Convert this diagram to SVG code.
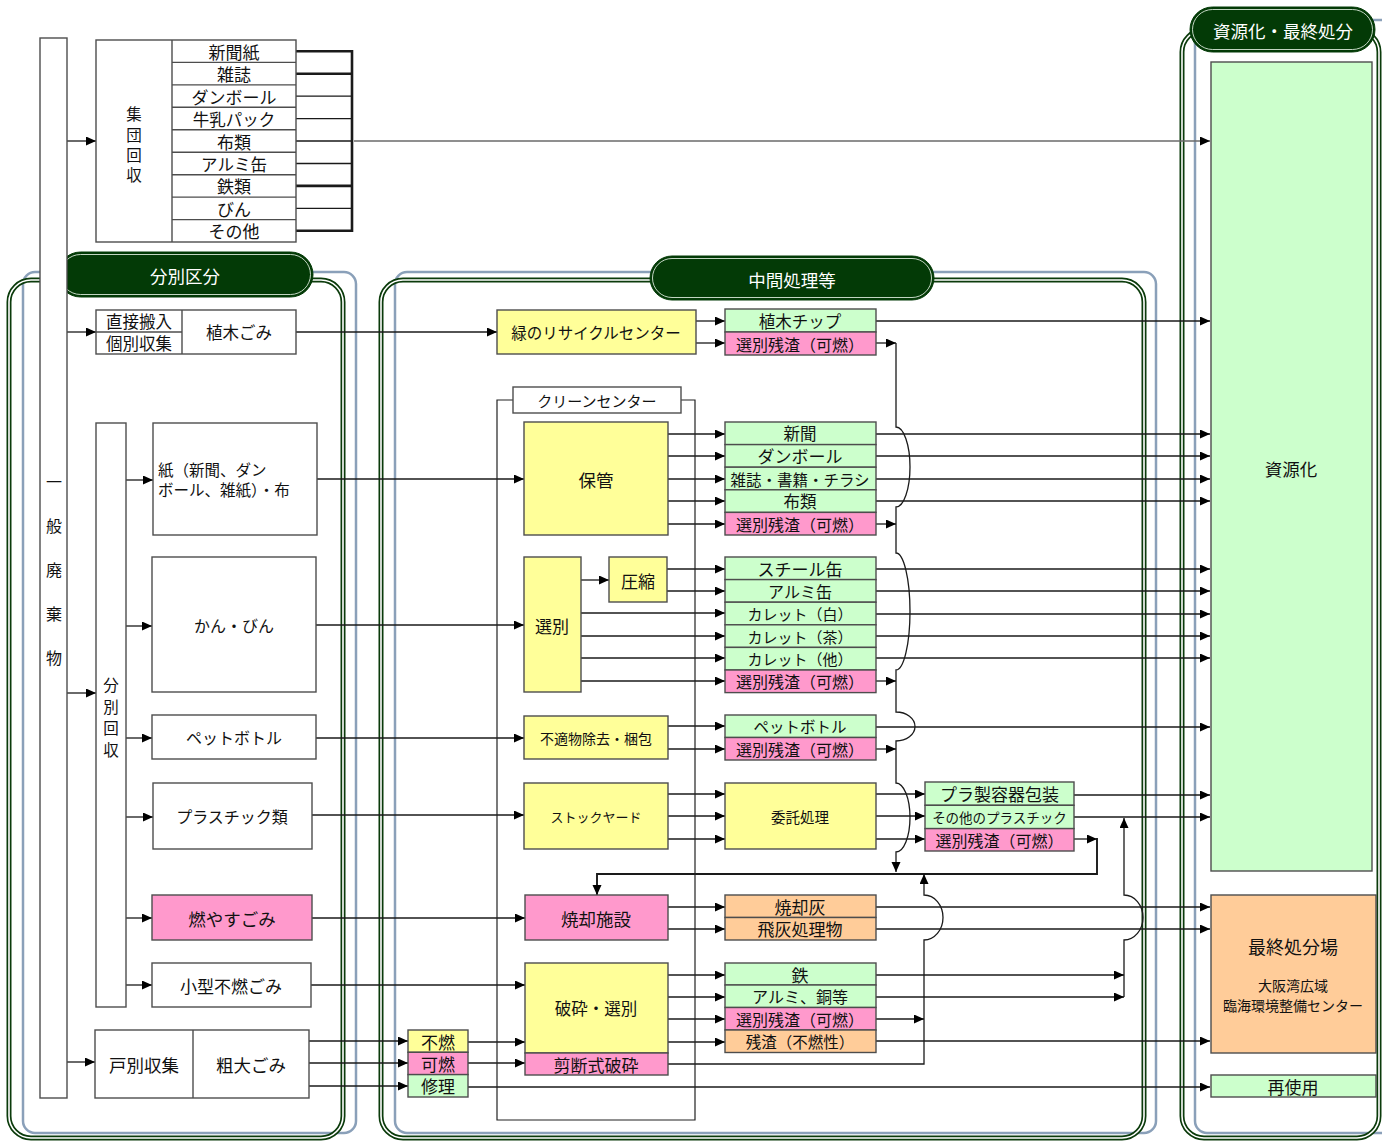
<svg xmlns="http://www.w3.org/2000/svg" width="1382" height="1141" viewBox="0 0 1382 1141">
<defs>
<style>
.bx{stroke:#4d4d4d;stroke-width:1.4}
.wf{fill:#fff}.yf{fill:#ffff99}.gf{fill:#ccffcc}.pf{fill:#ff99cc}.of{fill:#ffcc99}
text{font-family:"Noto Sans CJK JP","Noto Sans CJK SC",sans-serif;fill:#111;text-anchor:middle;dominant-baseline:central;font-size:17px}
.ln{fill:none;stroke:#1a1a1a;stroke-width:1.3}
.a{marker-end:url(#ah)}
.thk{stroke-width:2.6}
.gl{fill:none;stroke:#0b3b0b;stroke-width:5}
.gi{fill:none;stroke:#fff;stroke-width:1.6}
.bl{fill:none;stroke:#8aa0b9;stroke-width:2.5}
.pill{fill:#033a06;stroke:#033a06;stroke-width:1}
.pilli{fill:none;stroke:#d8e6d8;stroke-width:0.9}
.ht{fill:#fff;font-size:17.5px}
.sep{stroke:#4d4d4d;stroke-width:1.4;fill:none}
</style>
<marker id="ah" markerWidth="11" markerHeight="10" refX="10" refY="4.5" orient="auto" markerUnits="userSpaceOnUse">
<path d="M0,0 L10,4.5 L0,9 z" fill="#000"/>
</marker>
</defs>

<g id="containers">
<rect x="23" y="272" width="333" height="861" rx="12" class="bl"/>
<rect x="9" y="280" width="334" height="858" rx="22" class="gl"/>
<rect x="9" y="280" width="334" height="858" rx="22" class="gi"/>
<rect x="395" y="272" width="761" height="861" rx="12" class="bl"/>
<rect x="381" y="280" width="763" height="858" rx="22" class="gl"/>
<rect x="381" y="280" width="763" height="858" rx="22" class="gi"/>
<rect x="1195" y="20" width="210" height="1113" rx="12" class="bl"/>
<rect x="1182" y="30" width="197" height="1108" rx="22" class="gl"/>
<rect x="1182" y="30" width="197" height="1108" rx="22" class="gi"/>
</g>

<g id="headers">
<g id="h-bunbetsu">
<rect x="58" y="252" width="255" height="45" rx="22.5" class="pill"/>
<rect x="60.5" y="254.5" width="250" height="40" rx="20" class="pilli"/>
<text x="185" y="275" class="ht">分別区分</text>
</g>
<g id="h-chukan">
<rect x="650" y="256" width="284" height="44" rx="22" class="pill"/>
<rect x="652.5" y="258.5" width="279" height="39" rx="19.5" class="pilli"/>
<text x="792" y="279" class="ht">中間処理等</text>
</g>
<g id="h-shigen">
<rect x="1190" y="7" width="185" height="45" rx="22.5" class="pill"/>
<rect x="1192.5" y="9.5" width="180" height="40" rx="20" class="pilli"/>
<text x="1283" y="30" class="ht">資源化・最終処分</text>
</g>
</g>

<g id="connectors">
<path class="ln a" d="M67,141 H96"/>
<path class="ln a" d="M67,332 H96"/>
<path class="ln a" d="M67,693 H96"/>
<path class="ln a" d="M67,1062 H95"/>
<path class="ln a" d="M126,480 H153"/>
<path class="ln a" d="M126,626 H152"/>
<path class="ln a" d="M126,738 H152"/>
<path class="ln a" d="M126,817 H153"/>
<path class="ln a" d="M126,918 H152"/>
<path class="ln a" d="M126,985 H152"/>
<path class="ln thk" d="M296,51.2 H353"/>
<path class="ln thk" d="M296,73.7 H353"/>
<path class="ln" d="M296,96.1 H352 M296,118.6 H352 M296,141 H352 M296,163.5 H352 M296,208.4 H352"/>
<path class="ln thk" d="M296,185.9 H353"/>
<path class="ln thk" d="M296,230.8 H353"/>
<path class="ln thk" d="M352,50 V232"/>
<path class="ln a" style="stroke:#6a6a6a;stroke-width:1.6" d="M354,141 H1210"/>
<path class="ln a" d="M296,332 H497"/>
<path class="ln a" d="M696,321 H725"/>
<path class="ln a" d="M696,343 H725"/>
<path class="ln a" d="M876,321 H1210"/>
<path class="ln a" d="M876,343 H896"/>
<path class="ln a" d="M896,343 V427 A14,40 0 0 1 896,507 V553 A14,58.5 0 0 1 896,670 V712 A19,14.5 0 0 1 896,741 V783 A14,34.5 0 0 1 896,852 V872"/>
<path class="ln a" d="M317,479 H524"/>
<path class="ln a" d="M668,434 H725"/>
<path class="ln a" d="M668,456 H725"/>
<path class="ln a" d="M668,479 H725"/>
<path class="ln a" d="M668,501 H725"/>
<path class="ln a" d="M668,524 H725"/>
<path class="ln a" d="M876,434 H1210"/>
<path class="ln a" d="M876,456 H1210"/>
<path class="ln a" d="M876,479 H1210"/>
<path class="ln a" d="M876,501 H1210"/>
<path class="ln a" d="M876,524 H896"/>
<path class="ln a" d="M316,625 H524"/>
<path class="ln a" d="M581,580 H609"/>
<path class="ln a" d="M667,569 H725"/>
<path class="ln a" d="M667,591 H725"/>
<path class="ln a" d="M581,613 H725"/>
<path class="ln a" d="M581,636 H725"/>
<path class="ln a" d="M581,658 H725"/>
<path class="ln a" d="M581,681 H725"/>
<path class="ln a" d="M876,569 H1210"/>
<path class="ln a" d="M876,591 H1210"/>
<path class="ln a" d="M876,614 H1210"/>
<path class="ln a" d="M876,636 H1210"/>
<path class="ln a" d="M876,658 H1210"/>
<path class="ln a" d="M876,681 H896"/>
<path class="ln a" d="M316,738 H524"/>
<path class="ln a" d="M668,726 H725"/>
<path class="ln a" d="M668,749 H725"/>
<path class="ln a" d="M876,727 H1210"/>
<path class="ln a" d="M876,749 H896"/>
<path class="ln a" d="M312,815 H524"/>
<path class="ln a" d="M668,794 H725"/>
<path class="ln a" d="M668,816 H725"/>
<path class="ln a" d="M668,839 H725"/>
<path class="ln a" d="M876,794 H925"/>
<path class="ln a" d="M876,816 H925"/>
<path class="ln a" d="M876,839 H925"/>
<path class="ln a" d="M1074,795 H1210"/>
<path class="ln a" d="M1074,817 H1210"/>
<path class="ln a" d="M1074,839 H1097"/>
<path class="ln a" style="stroke-width:1.9" d="M1097,838 V874 H597 V895"/>
<path class="ln a" d="M312,918 H525"/>
<path class="ln a" d="M668,907 H725"/>
<path class="ln a" d="M668,929 H725"/>
<path class="ln a" d="M876,907 H1210"/>
<path class="ln a" d="M876,929 H1210"/>
<path class="ln a" d="M311,985 H525"/>
<path class="ln a" d="M309,1041 H408"/>
<path class="ln a" d="M309,1063 H408"/>
<path class="ln a" d="M309,1086 H408"/>
<path class="ln a" d="M468,1042 H525"/>
<path class="ln a" d="M468,1063 H525"/>
<path class="ln a" d="M468,1087 H1210"/>
<path class="ln a" d="M668,975 H725"/>
<path class="ln a" d="M668,997 H725"/>
<path class="ln a" d="M668,1019 H725"/>
<path class="ln a" d="M668,1042 H725"/>
<path class="ln a" d="M876,975 H1124"/>
<path class="ln a" d="M876,997 H1124"/>
<path class="ln a" d="M876,1019 H924"/>
<path class="ln a" d="M876,1041 H1210"/>
<path class="ln a" d="M668,1064 H924 V940 A19,22.5 0 0 0 924,895 V874"/>
<path class="ln a" d="M1124,997 V940 A19,22.5 0 0 0 1124,895 V818"/>
</g>

<g id="n-ippan">
<rect x="40" y="38" width="27" height="1060" class="bx wf"/>
<text style="font-size:16px"><tspan x="54" y="481">一</tspan><tspan x="54" y="525">般</tspan><tspan x="54" y="569">廃</tspan><tspan x="54" y="613">棄</tspan><tspan x="54" y="657">物</tspan></text>
</g>

<g id="n-shudan">
<rect x="96" y="40" width="200" height="202" class="bx wf"/>
<path class="sep" d="M172,40 V242 M172,62.4 H296 M172,84.9 H296 M172,107.3 H296 M172,129.8 H296 M172,152.2 H296 M172,174.7 H296 M172,197.1 H296 M172,219.6 H296"/>
<text style="font-size:15.5px"><tspan x="134" y="113">集</tspan><tspan x="134" y="134">団</tspan><tspan x="134" y="154">回</tspan><tspan x="134" y="174">収</tspan></text>
<text x="234" y="51.2">新聞紙</text>
<text x="234" y="73.7">雑誌</text>
<text x="234" y="96.1">ダンボール</text>
<text x="234" y="118.6" style="font-size:16.5px">牛乳パック</text>
<text x="234" y="141">布類</text>
<text x="234" y="163.5" style="font-size:16.5px">アルミ缶</text>
<text x="234" y="185.9">鉄類</text>
<text x="234" y="208.4">びん</text>
<text x="234" y="230.8">その他</text>
</g>

<g id="n-chokusetsu">
<rect x="96" y="310" width="200" height="44" class="bx wf"/>
<path class="sep" d="M182,310 V354 M96,332 H182"/>
<text x="139" y="321" style="font-size:16.5px">直接搬入</text>
<text x="139" y="343" style="font-size:16.5px">個別収集</text>
<text x="239" y="332" style="font-size:16.5px">植木ごみ</text>
</g>

<g id="n-midori">
<rect x="497" y="310" width="199" height="44" class="bx yf"/>
<text x="596" y="332" style="font-size:15.5px">緑のリサイクルセンター</text>
</g>

<g id="n-ueki-out">
<rect x="725" y="309" width="151" height="23" class="bx gf"/>
<text x="800" y="320.5" style="font-size:16.5px">植木チップ</text>
<rect x="725" y="332" width="151" height="23" class="bx pf"/>
<text x="800" y="343.5" style="font-size:16px">選別残渣（可燃）</text>
</g>

<g id="n-clean">
<path class="sep" style="stroke:#222;stroke-width:1.2" d="M513,400 H497 V1120 H695 V400 H681"/>
<rect x="513" y="387" width="168" height="26" class="bx wf"/>
<text x="597" y="400" style="font-size:15px">クリーンセンター</text>
</g>

<g id="n-bunbetsu">
<rect x="96" y="423" width="30" height="584" class="bx wf"/>
<text style="font-size:15.5px"><tspan x="111" y="684">分</tspan><tspan x="111" y="705.5">別</tspan><tspan x="111" y="727">回</tspan><tspan x="111" y="748.5">収</tspan></text>
</g>

<g id="n-kami">
<rect x="153" y="423" width="164" height="112" class="bx wf"/>
<text x="158" y="469" style="font-size:15.5px;text-anchor:start">紙（新聞、ダン</text>
<text x="158" y="489" style="font-size:15.5px;text-anchor:start">ボール、雑紙）・布</text>
</g>
<g id="n-kan">
<rect x="152" y="557" width="164" height="135" class="bx wf"/>
<text x="234" y="625" style="font-size:16px">かん・びん</text>
</g>
<g id="n-pet">
<rect x="152" y="715" width="164" height="44" class="bx wf"/>
<text x="234" y="737" style="font-size:16px">ペットボトル</text>
</g>
<g id="n-pla">
<rect x="153" y="783" width="159" height="66" class="bx wf"/>
<text x="232" y="816" style="font-size:16px">プラスチック類</text>
</g>
<g id="n-moyasu">
<rect x="152" y="895" width="160" height="45" class="bx pf"/>
<text x="232" y="918" style="font-size:17.5px">燃やすごみ</text>
</g>
<g id="n-kogata">
<rect x="152" y="963" width="159" height="44" class="bx wf"/>
<text x="231" y="985" style="font-size:17px">小型不燃ごみ</text>
</g>
<g id="n-sodai">
<rect x="95" y="1030" width="214" height="68" class="bx wf"/>
<path class="sep" d="M193,1030 V1098"/>
<text x="144" y="1064" style="font-size:17.5px">戸別収集</text>
<text x="251" y="1064" style="font-size:17.5px">粗大ごみ</text>
</g>
<g id="n-sodai-split">
<rect x="408" y="1030" width="60" height="22.3" class="bx yf"/>
<text x="438" y="1041.2">不燃</text>
<rect x="408" y="1052.3" width="60" height="22.3" class="bx pf"/>
<text x="438" y="1063.5">可燃</text>
<rect x="408" y="1074.6" width="60" height="22.4" class="bx gf"/>
<text x="438" y="1085.8">修理</text>
</g>

<g id="n-hokan">
<rect x="524" y="422" width="144" height="113" class="bx yf"/>
<text x="596" y="479" style="font-size:17.5px">保管</text>
</g>
<g id="n-hokan-out">
<rect x="725" y="422" width="151" height="22.6" class="bx gf"/>
<text x="800" y="433.3" style="font-size:16.5px">新聞</text>
<rect x="725" y="444.6" width="151" height="22.6" class="bx gf"/>
<text x="800" y="455.9">ダンボール</text>
<rect x="725" y="467.2" width="151" height="22.6" class="bx gf"/>
<text x="800" y="478.5" style="font-size:15.5px">雑誌・書籍・チラシ</text>
<rect x="725" y="489.8" width="151" height="22.6" class="bx gf"/>
<text x="800" y="501.1" style="font-size:16.5px">布類</text>
<rect x="725" y="512.4" width="151" height="22.6" class="bx pf"/>
<text x="800" y="523.7" style="font-size:16px">選別残渣（可燃）</text>
</g>

<g id="n-senbetsu">
<rect x="524" y="557" width="57" height="135" class="bx yf"/>
<text x="552" y="625">選別</text>
</g>
<g id="n-asshuku">
<rect x="609" y="557" width="58" height="45" class="bx yf"/>
<text x="638" y="580">圧縮</text>
</g>
<g id="n-senbetsu-out">
<rect x="725" y="557" width="151" height="22.6" class="bx gf"/>
<text x="800" y="568.3">スチール缶</text>
<rect x="725" y="579.6" width="151" height="22.6" class="bx gf"/>
<text x="800" y="590.9" style="font-size:16px">アルミ缶</text>
<rect x="725" y="602.2" width="151" height="22.6" class="bx gf"/>
<text x="800" y="613.5" style="font-size:15px">カレット（白）</text>
<rect x="725" y="624.8" width="151" height="22.6" class="bx gf"/>
<text x="800" y="636.1" style="font-size:15px">カレット（茶）</text>
<rect x="725" y="647.4" width="151" height="22.6" class="bx gf"/>
<text x="800" y="658.7" style="font-size:15px">カレット（他）</text>
<rect x="725" y="670" width="151" height="22.6" class="bx pf"/>
<text x="800" y="681.3" style="font-size:16px">選別残渣（可燃）</text>
</g>

<g id="n-futeki">
<rect x="524" y="716" width="144" height="43" class="bx yf"/>
<text x="596" y="737.5" style="font-size:14px">不適物除去・梱包</text>
</g>
<g id="n-futeki-out">
<rect x="725" y="715" width="151" height="22.5" class="bx gf"/>
<text x="800" y="726.2" style="font-size:15.5px">ペットボトル</text>
<rect x="725" y="737.5" width="151" height="22.5" class="bx pf"/>
<text x="800" y="748.7" style="font-size:16px">選別残渣（可燃）</text>
</g>

<g id="n-stock">
<rect x="524" y="783" width="144" height="66" class="bx yf"/>
<text x="596" y="816" style="font-size:13px">ストックヤード</text>
</g>
<g id="n-itaku">
<rect x="725" y="783" width="151" height="66" class="bx yf"/>
<text x="800" y="816" style="font-size:14.5px">委託処理</text>
</g>
<g id="n-itaku-out">
<rect x="925" y="782" width="149" height="23.3" class="bx gf"/>
<text x="999.5" y="793.6">プラ製容器包装</text>
<rect x="925" y="805.3" width="149" height="23.3" class="bx gf"/>
<text x="999.5" y="817" style="font-size:13.5px">その他のプラスチック</text>
<rect x="925" y="828.6" width="149" height="22.4" class="bx pf"/>
<text x="999.5" y="839.8" style="font-size:16px">選別残渣（可燃）</text>
</g>

<g id="n-shokyaku">
<rect x="525" y="895" width="143" height="45" class="bx pf"/>
<text x="596" y="918" style="font-size:17.5px">焼却施設</text>
</g>
<g id="n-shokyaku-out">
<rect x="725" y="895" width="151" height="22.5" class="bx of"/>
<text x="800" y="906.2">焼却灰</text>
<rect x="725" y="917.5" width="151" height="22.5" class="bx of"/>
<text x="800" y="928.7">飛灰処理物</text>
</g>

<g id="n-hasai">
<rect x="525" y="963" width="143" height="90" class="bx yf"/>
<text x="596" y="1008" style="font-size:16.5px">破砕・選別</text>
<rect x="525" y="1053" width="143" height="22" class="bx pf"/>
<text x="596" y="1064">剪断式破砕</text>
</g>
<g id="n-hasai-out">
<rect x="725" y="963" width="151" height="22" class="bx gf"/>
<text x="800" y="974">鉄</text>
<rect x="725" y="985" width="151" height="22.5" class="bx gf"/>
<text x="800" y="996.2" style="font-size:16px">アルミ、銅等</text>
<rect x="725" y="1007.5" width="151" height="22.5" class="bx pf"/>
<text x="800" y="1018.7" style="font-size:16px">選別残渣（可燃）</text>
<rect x="725" y="1030" width="151" height="22.5" class="bx of"/>
<text x="800" y="1041.2" style="font-size:15.5px">残渣（不燃性）</text>
</g>

<g id="n-shigenka">
<rect x="1211" y="62" width="161" height="809" class="bx gf"/>
<text x="1291" y="468" style="font-size:17.5px">資源化</text>
</g>
<g id="n-saishu">
<rect x="1211" y="895" width="165" height="158" class="bx of"/>
<text x="1293" y="946" style="font-size:18px">最終処分場</text>
<text x="1293" y="984.5" style="font-size:14px">大阪湾広域</text>
<text x="1293" y="1004.5" style="font-size:14px">臨海環境整備センター</text>
</g>
<g id="n-saishiyo">
<rect x="1211" y="1075" width="165" height="22" class="bx gf"/>
<text x="1293" y="1086">再使用</text>
</g>
</svg>
